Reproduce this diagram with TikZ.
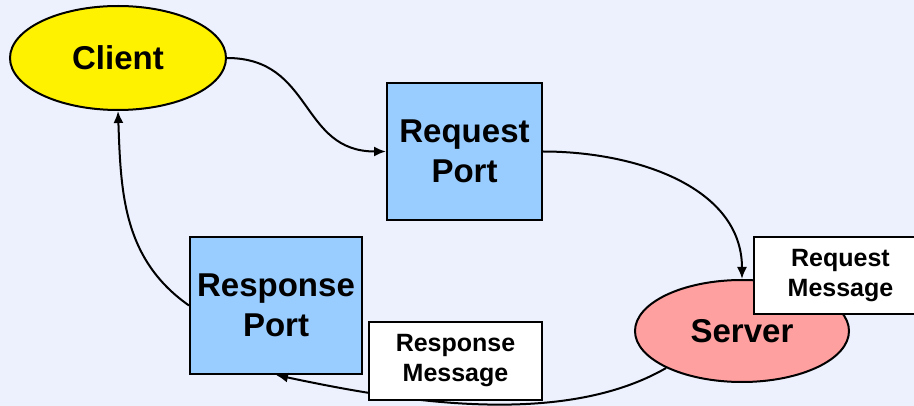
\documentclass[tikz,border=0pt]{standalone}
\usepackage{fontspec}
\setmainfont{Liberation Sans}
\usetikzlibrary{positioning,arrows.meta,shapes.geometric}
\tikzset{>={Latex[length=12pt, width=10pt]}}
\definecolor{bgblue}{RGB}{236,241,253}
\definecolor{portblue}{RGB}{153,204,255}
\definecolor{serverpink}{RGB}{255,160,160}

\begin{document}
\begin{tikzpicture}[x=1pt, y=1pt,
    bigtext/.style={font=\bfseries\fontsize{33}{40}\selectfont, align=center},
    smalltext/.style={font=\bfseries\fontsize{25}{30}\selectfont, align=center},
    proc/.style={ellipse, draw, line width=2pt, inner sep=0pt, bigtext},
    port/.style={rectangle, draw, line width=2pt, fill=portblue, minimum height=137pt, inner sep=0pt, bigtext},
    msg/.style={rectangle, draw, line width=2pt, fill=white, minimum width=173pt, minimum height=77pt, inner sep=0pt, smalltext},
    link/.style={->, draw, line width=2pt}]
            \fill[bgblue] (0,0) rectangle (914,-406);
            \useasboundingbox (0,0) rectangle (914,-406);

            \node[proc, fill=yellow, minimum width=216pt, minimum height=104pt] (client) at (118,-58) {Client};
            \node[port, minimum width=155pt] (reqport) at (464.5,-151.5) {Request\\Port};
            \node[port, minimum width=172pt] (resport) at (276,-305.5) {Response\\Port};
            \node[proc, fill=serverpink, minimum width=214pt, minimum height=102pt] (server) at (742,-331) {Server};

            \draw[link] (client.east) to [out=0, in=180, looseness=1.2] (reqport.west);
            \draw[link] (reqport.east) to [out=0, in=90] (server.north);
            \draw[link] (server.206) to [out=210, in=-12, looseness=0.8] (resport.south);
            \draw[link] (resport.west) to [out=145, in=-88] (client.south);

            % message boxes on top
            \node[msg] (reqmsg) at (840.5,-275.5) {Request\\Message};
            \node[msg] (resmsg) at (455.5,-361) {Response\\Message};
          \end{tikzpicture}
\end{document}
